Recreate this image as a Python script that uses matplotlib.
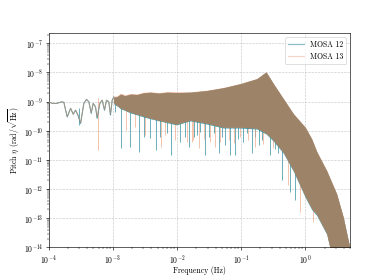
import matplotlib

matplotlib.use("Agg")
import matplotlib.pyplot as plt
import numpy as np
from matplotlib.lines import Line2D

plt.rcParams["font.family"] = "serif"
plt.rcParams["font.serif"] = ["cmr10"]
plt.rcParams["mathtext.fontset"] = "cm"
plt.rcParams["axes.formatter.use_mathtext"] = True
plt.rcParams["axes.unicode_minus"] = False

# --- low-frequency part: both MOSAs follow the same single trace ---
f_low = [1.0e-4, 1.15e-4, 1.33e-4, 1.59e-4, 1.73e-4, 1.84e-4, 1.95e-4, 2.20e-4,
         2.42e-4, 2.63e-4, 2.86e-4, 3.15e-4, 3.34e-4, 3.54e-4, 3.90e-4, 4.24e-4,
         4.61e-4, 4.95e-4, 5.38e-4, 5.71e-4, 6.28e-4, 6.85e-4, 7.43e-4, 7.98e-4,
         8.67e-4, 9.20e-4, 9.79e-4, 1.04e-3]
mosa12_low = [9.8e-10, 8.7e-10, 8.7e-10, 9.8e-10, 9.5e-10, 5.1e-10, 3.0e-10, 5.9e-10,
              3.7e-10, 5.1e-10, 3.5e-10, 1.8e-10, 4.0e-10, 8.7e-10, 1.2e-9, 9.8e-10,
              4.0e-10, 8.7e-10, 6.6e-10, 2.7e-10, 8.7e-10, 1.12e-9, 5.1e-10, 1.12e-9,
              9.8e-10, 3.5e-10, 1.12e-9, 1.45e-9]
mosa13_low = [9.8e-10, 8.7e-10, 8.7e-10, 9.8e-10, 9.5e-10, 5.1e-10, 3.1e-10, 5.9e-10,
              3.7e-10, 5.1e-10, 3.6e-10, 1.9e-10, 4.0e-10, 8.7e-10, 1.2e-9, 9.8e-10,
              4.2e-10, 8.7e-10, 6.6e-10, 3.0e-10, 8.7e-10, 1.12e-9, 5.3e-10, 1.12e-9,
              9.8e-10, 3.8e-10, 1.12e-9, 1.45e-9]

# --- dense noisy part: envelope of the spectrum ---
f_band = [1.03e-3, 1.18e-3, 1.32e-3, 1.55e-3, 1.88e-3, 2.4e-3, 3.0e-3, 3.85e-3,
          5.2e-3, 7.0e-3, 9.8e-3, 1.61e-2, 2.94e-2, 5.32e-2, 9.7e-2, 0.176, 0.245,
          0.319, 0.456, 0.653, 1.0, 1.26, 1.51, 2.16, 3.09, 3.92, 4.68, 4.98]
mosa12_upper = [1.4e-9, 1.5e-9, 1.8e-9, 1.6e-9, 1.8e-9, 1.75e-9, 2.0e-9, 2.1e-9,
                1.95e-9, 2.1e-9, 2.05e-9, 2.1e-9, 2.4e-9, 3.0e-9, 4.1e-9, 6.1e-9,
                1.04e-8, 4.1e-9, 1.25e-9, 3.8e-10, 1.3e-10, 5.2e-11, 1.9e-11, 4.2e-12,
                6.7e-13, 1.05e-13, 1.7e-14, 1.0e-14]
mosa13_upper = [1.5e-9, 1.6e-9, 1.95e-9, 1.7e-9, 1.9e-9, 1.85e-9, 2.1e-9, 2.17e-9,
                2.05e-9, 2.2e-9, 2.17e-9, 2.17e-9, 2.48e-9, 3.08e-9, 4.22e-9, 6.27e-9,
                1.06e-8, 4.22e-9, 1.29e-9, 3.94e-10, 1.36e-10, 5.43e-11, 2.0e-11, 4.43e-12,
                7.0e-13, 1.1e-13, 1.74e-14, 1.0e-14]
mosa12_lower = [8.5e-10, 7.0e-10, 5.7e-10, 5.0e-10, 4.1e-10, 3.5e-10, 3.0e-10, 2.6e-10,
                2.2e-10, 1.9e-10, 1.6e-10, 2.2e-10, 1.7e-10, 1.25e-10, 1.25e-10, 1.15e-10,
                7.8e-11, 4.4e-11, 1.7e-11, 4.1e-12, 5.2e-13, 2.0e-13, 1.25e-13, 2.8e-14,
                1e-15, 1e-15, 1e-15, 1e-15]
mosa13_lower = [8.9e-10, 7.3e-10, 5.98e-10, 5.2e-10, 4.35e-10, 3.7e-10, 3.2e-10, 2.71e-10,
                2.3e-10, 2.0e-10, 1.69e-10, 2.31e-10, 1.82e-10, 1.33e-10, 1.33e-10, 1.23e-10,
                8.3e-11, 4.75e-11, 1.84e-11, 4.43e-12, 5.66e-13, 2.19e-13, 1.36e-13, 3.0e-14,
                1e-15, 1e-15, 1e-15, 1e-15]

# --- dips below the envelope ---
mosa12_dip_f = [2.96e-4, 1.10e-3, 1.32e-3, 1.84e-3, 2.54e-3, 3.03e-3, 3.85e-3, 4.73e-3,
                5.52e-3, 7.0e-3, 8.10e-3, 1.13e-2, 1.35e-2, 1.56e-2, 1.82e-2, 2.06e-2,
                2.31e-2, 2.77e-2, 3.11e-2, 3.72e-2, 4.46e-2, 5.02e-2, 5.66e-2, 6.76e-2,
                8.09e-2, 9.1e-2, 0.109, 0.123, 0.147, 0.166, 0.187, 0.210, 0.237, 0.284,
                0.339, 0.382, 0.431, 0.581, 0.694, 1.81]
mosa12_dip_v = [1.56e-10, 4.35e-10, 2.52e-11, 2.73e-11, 1.84e-11, 6.2e-11, 5.57e-11, 2.15e-11,
                6.03e-11, 8.1e-11, 1.45e-11, 4.06e-11, 6.2e-11, 2.73e-11, 6.2e-11, 7.06e-11,
                9.2e-11, 1.45e-11, 6.2e-11, 8.1e-11, 1.70e-11, 6.2e-11, 3.20e-11, 1.45e-11,
                1.45e-11, 5.4e-11, 4.06e-11, 8.1e-11, 1.70e-11, 6.2e-11, 3.20e-11, 4.75e-11,
                8.1e-11, 1.45e-11, 2.47e-11, 1.70e-11, 2.0e-12, 7.8e-13, 4.1e-13, 5.7e-14]
mosa13_dip_f = [5.85e-4, 1.58e-3, 2.25e-3, 3.23e-3, 5.71e-3, 6.61e-3, 9.44e-3, 1.44e-2,
                1.72e-2, 1.80e-2, 2.23e-2, 2.60e-2, 3.30e-2, 3.95e-2, 4.73e-2, 6.37e-2,
                7.62e-2, 9.7e-2, 0.130, 0.166, 0.223, 0.319, 0.540, 0.830, 1.32]
mosa13_dip_v = [2.15e-11, 1.05e-10, 1.36e-10, 7.06e-11, 2.73e-11, 7.1e-11, 4.75e-11, 4.16e-11,
                4.16e-11, 4.75e-11, 2.52e-11, 5.4e-11, 4.16e-11, 2.73e-11, 4.16e-11, 4.75e-11,
                3.75e-11, 6.2e-11, 4.75e-11, 2.73e-11, 3.66e-11, 2.52e-11, 1.35e-12, 1.60e-13,
                7.2e-14]

c12 = "#23879a"
c13 = "#f0a07c"
overlap = "#9d8468"


def band_at(f, f_ref, v_ref):
    # log-log interpolation of an envelope at the dip frequencies
    return 10 ** np.interp(np.log10(f), np.log10(f_ref), np.log10(v_ref))


fig, ax = plt.subplots(figsize=(389 / 55.6, 278 / 55.6), dpi=55.6)

ax.plot(f_low, mosa12_low, color=c12, lw=1.3, zorder=3)
ax.plot(f_low, mosa13_low, color=c13, lw=1.3, alpha=0.6, zorder=3)

f12 = np.array(mosa12_dip_f)
f13 = np.array(mosa13_dip_f)
top12 = np.where(f12 < f_band[0], np.array(mosa12_dip_v) * 3, band_at(f12, f_band, mosa12_lower))
top13 = np.where(f13 < f_band[0], 1e-9, band_at(f13, f_band, mosa13_lower))
ax.vlines(f12, mosa12_dip_v, top12 * 1.3, color=c12, lw=1.0, alpha=0.85, zorder=2)
ax.vlines(f13, mosa13_dip_v, top13 * 1.3, color=c13, lw=1.0, alpha=0.8, zorder=2)

ax.fill_between(f_band, mosa12_lower, mosa12_upper, color=c12, lw=0, alpha=0.85, zorder=2)
ax.fill_between(f_band, mosa13_lower, mosa13_upper, color=c13, lw=0, alpha=0.7, zorder=2)
ax.fill_between(f_band, np.maximum(mosa12_lower, mosa13_lower),
                np.minimum(mosa12_upper, mosa13_upper), color=overlap, lw=0, zorder=2)

ax.set_xscale("log")
ax.set_yscale("log")
ax.set_xlim(1e-4, 5)
ax.set_ylim(1e-14, 2.2e-7)
ax.grid(True, which="major", ls="--", color="#c8c8c8", lw=0.8)
ax.set_xlabel("Frequency (Hz)", labelpad=1)
ax.set_ylabel(r"Pitch $\eta$ (rad/$\sqrt{\mathrm{Hz}}$)")

handles = [Line2D([], [], color=c12, lw=1.5, alpha=0.55),
           Line2D([], [], color=c13, lw=1.5, alpha=0.45)]
ax.legend(handles, ["MOSA 12", "MOSA 13"], loc="upper right")

fig.savefig("out.png", dpi=55.6)
